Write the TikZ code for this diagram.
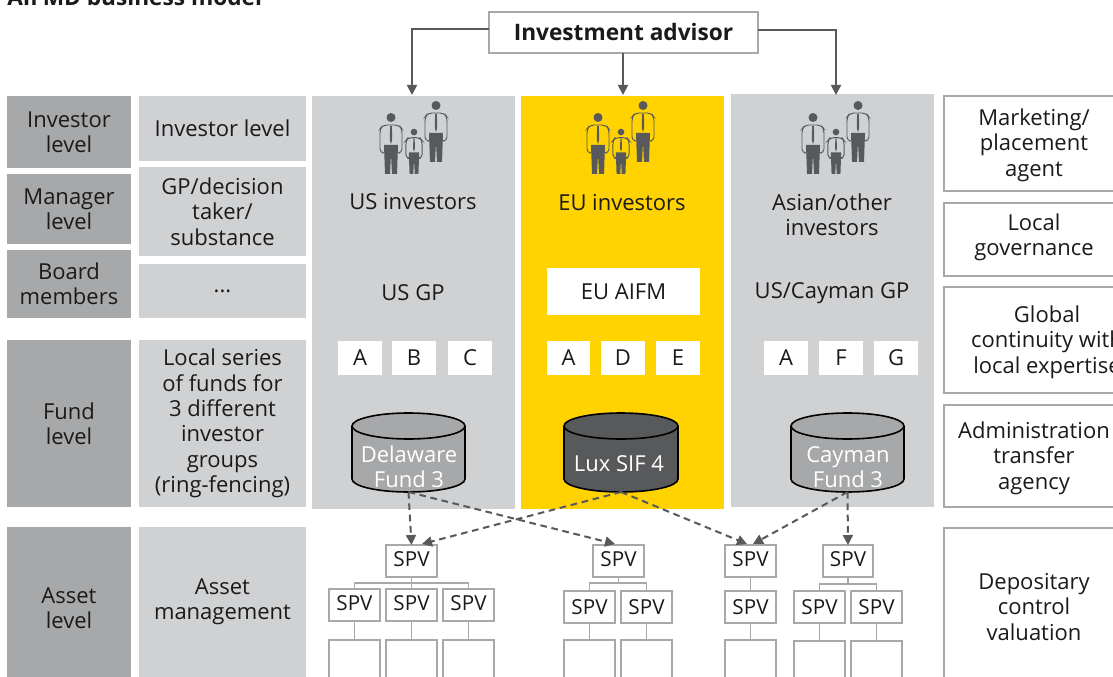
\documentclass[tikz,border=0pt]{standalone}
\usepackage{fontspec}
\setmainfont{Open Sans}
\usetikzlibrary{arrows.meta}
\definecolor{dgray}{HTML}{A7A8AA}
\definecolor{lgray}{HTML}{D0D1D3}
\definecolor{eyyellow}{HTML}{FFD200}
\definecolor{iconc}{HTML}{58595B}
\definecolor{txt}{HTML}{1A1A1A}
\tikzset{
  x=0.75pt,y=-0.75pt,
  base/.style={inner sep=0pt,outer sep=0pt,align=center,text=txt,font=\fontsize{16.5}{19}\selectfont,anchor=north west},
  dark/.style={base,fill=dgray},
  light/.style={base,fill=lgray},
  usp/.style={base,fill=lgray},
  eup/.style={base,fill=eyyellow},
  white/.style={base,fill=white},
  side/.style={base,draw=dgray,line width=1.5pt,fill=white},
  advisor/.style={base,draw=dgray,line width=1.5pt,fill=white,font=\fontsize{17}{19}\selectfont\bfseries},
  spv/.style={base,draw=dgray,line width=1.5pt,fill=white,font=\fontsize{15.5}{17}\selectfont},
  solidarrow/.style={draw=iconc,line width=1.5pt,-{Triangle[length=7.5pt,width=7.5pt]}},
  dasharrow/.style={draw=iconc,line width=1.5pt,dash pattern=on 5pt off 3.5pt,-{Triangle[length=7.5pt,width=7.5pt]}},
  link/.style={draw=dgray,line width=1.2pt},
  label/.style={inner sep=0pt,align=center,text=txt,font=\fontsize{16.5}{19}\selectfont},
  cyltext/.style={inner sep=0pt,align=center,text=white,font=\fontsize{16.5}{18.5}\selectfont},
}
\newcommand\bx[7]{%
  \pgfmathsetmacro\bxw{(#5-#3)*0.75}\pgfmathsetmacro\bxh{(#6-#4)*0.75}%
  \node[#1,minimum width=\bxw pt,minimum height=\bxh pt] (#2) at (#3,#4) {#7};}
\newcommand\person[3]{%
  \begin{scope}[shift={(#1,#2)},scale=#3]
    \fill[iconc] (0,5.5) circle[radius=4.5];
    \draw[iconc,line width=0.7pt,rounded corners=3pt] (-9,41) -- (-11,41) -- (-11,17) -- (-8,13) -- (8,13) -- (11,17) -- (11,41) -- (9,41);
    \fill[iconc] (-0.9,14) -- (0.9,14) -- (1.2,28) -- (0,32) -- (-1.2,28) -- cycle;
    \fill[iconc] (-7,33) -- (7,33) -- (6,62) -- (1,62) -- (0,42) -- (-1,62) -- (-6,62) -- cycle;
  \end{scope}}
\newcommand\people[1]{%
  \person{#1}{112}{1}\person{#1+23}{128}{0.74}\person{#1+45}{100}{1}}
\newcommand\cyl[4]{% x1, x2, fill, bottom coordinate name
  \pgfmathsetmacro\cxm{(#1+#2)/2}\pgfmathsetmacro\crx{(#2-#1)/2}
  \draw[white,line width=1.2pt,fill=#3] (#1,426) -- (#1,479) arc[start angle=180,end angle=360,x radius=\crx,y radius=-13] -- (#2,426) arc[start angle=0,end angle=360,x radius=\crx,y radius=-13];
  \coordinate (#4) at (\cxm,492);}
\begin{document}
\begin{tikzpicture}
\useasboundingbox (0,0) rectangle (1113,677);
\clip (0,0) rectangle (1113,677);
\fill[white] (0,0) rectangle (1113,677);
\node[anchor=base west,inner sep=0pt,text=txt,font=\fontsize{17}{19}\selectfont\bfseries] (title) at (7,6) {AIFMD business model};
% left columns
\bx{dark}{d1}{7}{96}{131}{168}{Investor\\level}
\bx{dark}{d2}{7}{174}{131}{244}{Manager\\level}
\bx{dark}{d3}{7}{250}{131}{318}{Board\\members}
\bx{dark}{d4}{7}{340}{131}{507}{Fund\\level}
\bx{dark}{d5}{7}{527}{131}{690}{Asset\\level}
\bx{light}{l1}{139}{96}{306}{161}{Investor level}
\bx{light}{l2}{139}{167}{306}{256}{GP/decision\\taker/\\substance}
\bx{light}{l3}{139}{264}{306}{318}{...}
\bx{light}{l4}{139}{340}{306}{507}{Local series\\of funds for\\3 different\\investor\\groups\\(ring-fencing)}
\bx{light}{l5}{139}{527}{306}{677}{Asset\\management}
% panels
\bx{usp}{pUS}{312}{96}{515}{509}{}
\bx{eup}{pEU}{521}{96}{724}{509}{}
\bx{usp}{pAS}{731}{94}{934}{507}{}
% right column
\bx{side}{r1}{944}{96}{1130}{191}{}
\node[label] (r1t) at (1034,145) {Marketing/\\placement\\agent};
\bx{side}{r2}{944}{203}{1130}{276}{}
\node[label] (r2t) at (1034,237) {Local\\governance};
\bx{side}{r3}{944}{287}{1130}{393}{}
\node[label] (r3t) at (1047,342) {Global\\continuity with\\local expertise};
\bx{side}{r4}{944}{405}{1130}{507}{}
\node[label] (r4t) at (1034,458) {Administration\\transfer\\agency};
\bx{side}{r5}{944}{528}{1130}{690}{}
\node[label] (r5t) at (1034,607) {Depositary\\control\\valuation};
% advisor
\bx{advisor}{adv}{489}{12}{758}{53}{Investment advisor}
\coordinate (advL) at (489,29);
\coordinate (advR) at (758,30);
\coordinate (tUS) at (412,95);
\coordinate (tEU) at (623,95);
\coordinate (tAS) at (836,95);
\draw[solidarrow] (advL) -| (tUS);
\draw[solidarrow] (adv.south -| tEU) -- (tEU);
\draw[solidarrow] (advR) -| (tAS);
% people
\people{391}
\people{598}
\people{813}
% labels
\node[label] (usi) at (413,202) {US investors};
\node[label] (eui) at (622,203) {EU investors};
\node[label] (asi) at (832,215) {Asian/other\\investors};
\node[label] (usg) at (413,293) {US GP};
\bx{white}{euf}{547}{268}{700}{315}{EU AIFM}
\node[label] (asg) at (832,293) {US/Cayman GP};
% letters
\bx{white}{a1}{338}{341}{382}{375}{A}
\bx{white}{a2}{392}{341}{436}{375}{B}
\bx{white}{a3}{448}{341}{492}{375}{C}
\bx{white}{b1}{547}{341}{590}{375}{A}
\bx{white}{b2}{601}{341}{645}{375}{D}
\bx{white}{b3}{656}{341}{700}{375}{E}
\bx{white}{c1}{764}{341}{808}{375}{A}
\bx{white}{c2}{819}{341}{863}{375}{F}
\bx{white}{c3}{874}{341}{918}{375}{G}
% cylinders
\cyl{352}{465}{dgray}{cUS}
\cyl{564}{678}{iconc}{cEU}
\cyl{791}{904}{dgray}{cAS}
\node[cyltext] (cUSt) at (409,467) {Delaware\\Fund 3};
\node[cyltext] (cEUt) at (619,464) {Lux SIF 4};
\node[cyltext] (cASt) at (848,467) {Cayman\\Fund 3};
% SPV
\bx{spv}{s1}{386}{545}{437}{577}{\raisebox{3pt}{SPV}}
\bx{spv}{s2}{593}{545}{644}{577}{\raisebox{3pt}{SPV}}
\bx{spv}{s3}{725}{545}{776}{577}{\raisebox{3pt}{SPV}}
\bx{spv}{s4}{823}{545}{873}{577}{\raisebox{3pt}{SPV}}
\bx{spv}{m1}{329}{589}{380}{621}{\raisebox{3pt}{SPV}}
\bx{spv}{m2}{386}{589}{437}{621}{\raisebox{3pt}{SPV}}
\bx{spv}{m3}{443}{589}{494}{621}{\raisebox{3pt}{SPV}}
\bx{spv}{m4}{564}{591}{615}{623}{SPV}
\bx{spv}{m5}{621}{591}{672}{623}{SPV}
\bx{spv}{m6}{725}{591}{776}{623}{SPV}
\bx{spv}{m7}{794}{591}{845}{623}{SPV}
\bx{spv}{m8}{851}{591}{902}{623}{SPV}
\bx{spv}{b1x}{329}{640}{380}{700}{}
\bx{spv}{b2x}{386}{640}{437}{700}{}
\bx{spv}{b3x}{443}{640}{494}{700}{}
\bx{spv}{b4x}{564}{640}{615}{700}{}
\bx{spv}{b5x}{621}{640}{672}{700}{}
\bx{spv}{b6x}{725}{640}{776}{700}{}
\bx{spv}{b7x}{794}{641}{845}{700}{}
\bx{spv}{b8x}{851}{641}{902}{700}{}
% tree links
\coordinate (j1) at (411.5,583);
\coordinate (j2) at (618.5,583);
\coordinate (j4) at (848,584);
\draw[link] (s1.south) -- (m2.north);
\draw[link] (m1.north) |- (j1) -| (m3.north);
\draw[link] (s2.south) -- (j2);
\draw[link] (m4.north) |- (j2) -| (m5.north);
\draw[link] (s3.south) -- (m6.north);
\draw[link] (s4.south) -- (j4);
\draw[link] (m7.north) |- (j4) -| (m8.north);
\foreach \p/\q in {m1/b1x,m2/b2x,m3/b3x,m4/b4x,m5/b5x,m6/b6x,m7/b7x,m8/b8x}
  \draw[link] (\p.south) -- (\q.north);
% dashed arrows
\coordinate (s1t) at (422,544);
\coordinate (s2t) at (615,544);
\coordinate (s3a) at (747,544);
\coordinate (s3b) at (753,544);
\draw[dasharrow] (cUS) -- (s1.north);
\draw[dasharrow] (cUS) -- (s2t);
\draw[dasharrow] (cEU) -- (s1t);
\draw[dasharrow] (cEU) -- (s3a);
\draw[dasharrow] (cAS) -- (s3b);
\draw[dasharrow] (cAS) -- (s4.north);
\end{tikzpicture}
\end{document}
